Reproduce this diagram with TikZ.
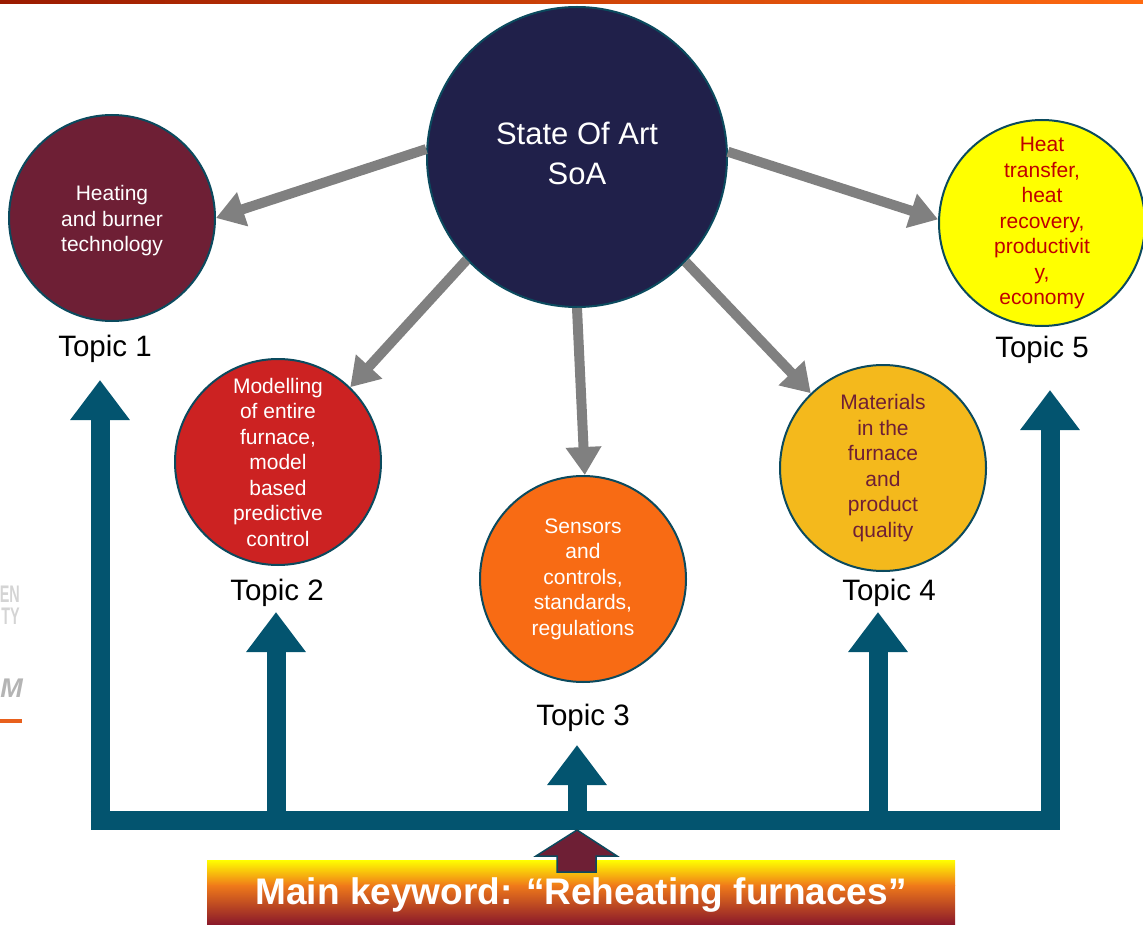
\documentclass[tikz,border=0pt]{standalone}
\usepackage{fontspec}
\setmainfont{Liberation Sans}
\usetikzlibrary{arrows.meta}
\definecolor{soafill}{HTML}{20204A}
\definecolor{bord}{HTML}{0B4A5E}
\definecolor{maroon}{HTML}{6E1F35}
\definecolor{tred}{HTML}{CC2222}
\definecolor{torange}{HTML}{F86B14}
\definecolor{tgold}{HTML}{F4B91C}
\definecolor{tyellow}{HTML}{FFFF00}
\definecolor{darkred}{HTML}{C00000}
\definecolor{greyarrow}{HTML}{808080}
\definecolor{bluearrow}{HTML}{03546F}
\definecolor{barleft}{HTML}{9A1A00}
\definecolor{barright}{HTML}{FF6A10}
\definecolor{kwred}{HTML}{D42020}
\definecolor{kworange}{HTML}{F07A1A}
\definecolor{kwbot}{HTML}{8B1A2A}
\definecolor{logogrey}{HTML}{D4D4D4}
\definecolor{logogreyb}{HTML}{B4B4B4}
\definecolor{logoorange}{HTML}{E8601C}
\begin{document}
\begin{tikzpicture}[x=1pt,y=-1pt,
  topic/.style={circle, draw=bord, line width=2pt, minimum size=206pt, inner sep=0pt,
    align=center, text=white, font=\fontsize{21}{25.5}\selectfont},
  soastyle/.style={circle, draw=bord, line width=2pt, minimum size=300pt, inner sep=0pt,
    fill=soafill},
  soatext/.style={align=center, text=white, inner sep=0pt, font=\fontsize{31}{40}\selectfont},
  toplabel/.style={font=\fontsize{29.5}{34}\selectfont, inner sep=0pt},
  greyarr/.style={draw=greyarrow, line width=10pt, -{Triangle[length=28pt,width=34pt]}},
  bluearr/.style={draw=bluearrow, line width=19pt, -{Triangle[length=40pt,width=57pt]}},
  logotext/.style={anchor=base east, inner sep=0pt},
]
\useasboundingbox (0,0) rectangle (1143,925);
% top bar
\shade[left color=barleft, right color=barright] (0,0) rectangle (1143,4);
% logo fragments on left edge
\node[logotext, text=logogrey, font=\fontsize{24}{24}\bfseries] (lgEN) at (20,602) {\scalebox{0.6}[1]{EN}};
\node[logotext, text=logogrey, font=\fontsize{24}{24}\bfseries] (lgTY) at (20,624) {\scalebox{0.6}[1]{TY}};
\node[logotext, text=logogreyb, font=\fontsize{27}{27}\bfseries\itshape] (lgM) at (23,697) {M};
\fill[logoorange] (0,718.5) rectangle (22,722.5);
% blue structure
\coordinate (hubL) at (90.5,820);
\coordinate (hubR) at (1059.5,820);
\draw[draw=bluearrow, line width=19pt] (hubL) -- (hubR);
\coordinate (b1) at (100,829.5);   \coordinate (a1) at (100,380);
\coordinate (b2) at (276,820);     \coordinate (a2) at (276,612);
\coordinate (b3) at (577,820);     \coordinate (a3) at (577,745);
\coordinate (b4) at (878,820);     \coordinate (a4) at (878,612);
\coordinate (b5) at (1050,829.5);  \coordinate (a5) at (1050,390);
\draw[bluearr] (b1) -- (a1);
\draw[bluearr] (b2) -- (a2);
\draw[bluearr] (b3) -- (a3);
\draw[bluearr] (b4) -- (a4);
\draw[bluearr] (b5) -- (a5);
% circles
\node[soastyle, label={[soatext, yshift=4pt]center:State Of Art\\SoA}] (soa) at (577,157) {};
\node[topic, fill=maroon, label={[topic, draw=none, fill=none, minimum size=0pt, yshift=-3pt]center:Heating\\and burner\\technology}] (t1) at (112,218) {};
\node[topic, fill=tred] (t2) at (278,462) {Modelling\\of entire\\furnace,\\model\\based\\predictive\\control};
\node[topic, fill=torange] (t3) at (583,579) {Sensors\\and\\controls,\\standards,\\regulations};
\node[topic, fill=tgold, text=maroon] (t4) at (883,468) {Materials\\in the\\furnace\\and\\product\\quality};
\node[topic, fill=tyellow, text=darkred] (t5) at (1042,223) {Heat\\transfer,\\heat\\recovery,\\productivit\\y,\\economy};
% grey arrows
\draw[greyarr] (soa.177) -- (t1.0);
\draw[greyarr] (soa.223) -- (t2.46);
\draw[greyarr] (soa.270) -- (t3.89);
\draw[greyarr] (soa.316) -- (t4.134);
\draw[greyarr] (soa.2) -- (t5.178);
% topic labels
\node[toplabel] (l1) at (105,349) {Topic 1};
\node[toplabel] (l2) at (277,593) {Topic 2};
\node[toplabel] (l3) at (583,718) {Topic 3};
\node[toplabel] (l4) at (889,593) {Topic 4};
\node[toplabel] (l5) at (1042,350) {Topic 5};
% keyword box
\shade[top color=tyellow, bottom color=kworange] (207,860) rectangle (955,885.5);
\shade[top color=kworange, middle color=kwred, bottom color=kwbot] (207,885) rectangle (955,924);
\node[text=white, inner sep=0pt, font=\fontsize{37}{37}\bfseries] (kw) at (581,895) {Main keyword: “Reheating furnaces”};
% maroon up arrow
\filldraw[fill=maroon, draw=bord, line width=1.5pt] (557,872) -- (557,856) -- (536,856) -- (577,830) -- (617,856) -- (596,856) -- (596,872) -- cycle;
\end{tikzpicture}
\end{document}
